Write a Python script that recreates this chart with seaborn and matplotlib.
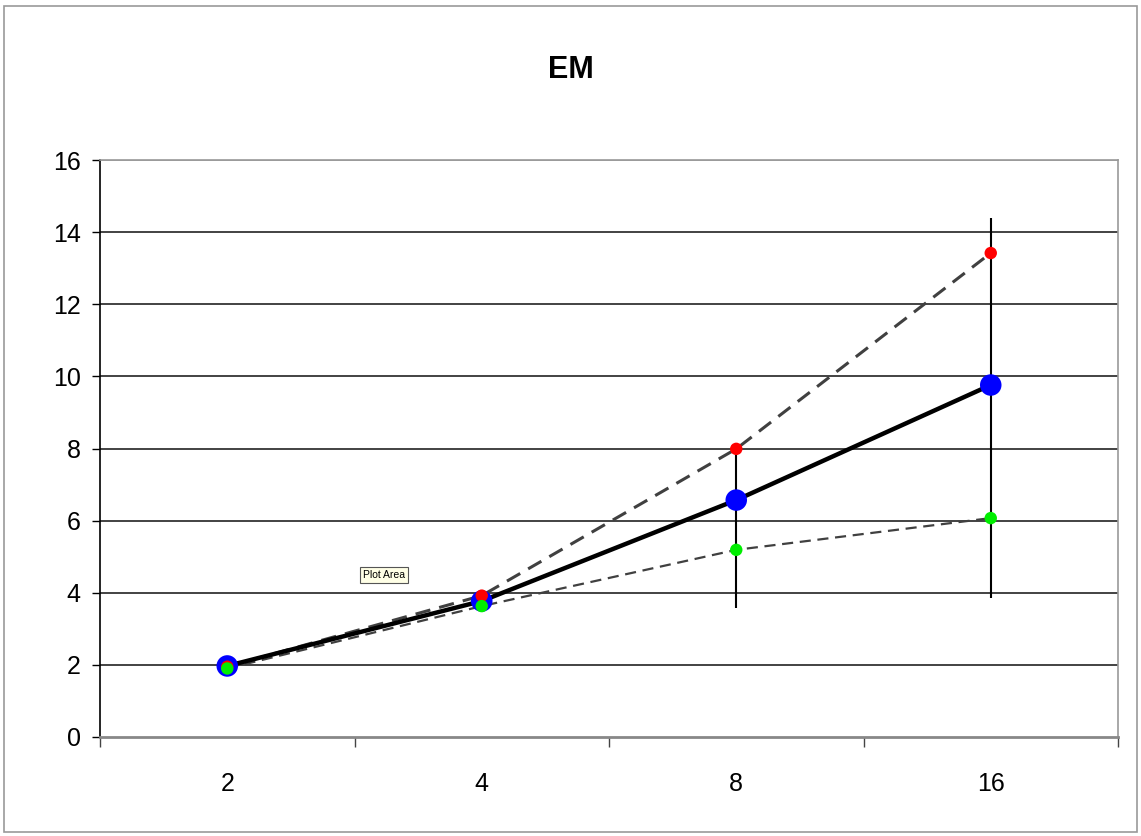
import numpy as np
import pandas as pd
import matplotlib
matplotlib.use("Agg")
import matplotlib.pyplot as plt
import seaborn as sns
from matplotlib.patches import Rectangle

sns.set_style("white")
plt.rcParams['font.family'] = ['Liberation Sans', 'DejaVu Sans']
plt.rcParams['text.color'] = 'black'
plt.rcParams['xtick.color'] = 'black'
plt.rcParams['ytick.color'] = 'black'

categories = ["2", "4", "8", "16"]
mean_vals = [1.97, 3.77, 6.57, 9.76]
upper_vals = [1.95, 3.92, 7.99, 13.42]
lower_vals = [1.90, 3.63, 5.19, 6.07]
err_low = [0.0, 0.0, 2.99, 5.91]
err_high = [0.0, 0.0, 1.31, 4.63]

df = pd.DataFrame({
    "pos": np.arange(len(categories)),
    "mean": mean_vals,
    "upper": upper_vals,
    "lower": lower_vals,
})

fig = plt.figure(figsize=(11.41, 8.36), dpi=100)
ax = fig.add_axes([100 / 1141, 1 - 737 / 836, 1018 / 1141, 577 / 836])

# gridlines
for yv in range(2, 17, 2):
    ax.axhline(yv, color="#222222" if yv < 16 else "#999999", lw=1.2, zorder=1)

# error bars on the mean
ax.errorbar(df["pos"], df["mean"], yerr=[err_low, err_high], fmt="none",
            ecolor="black", elinewidth=1.5, capsize=0, zorder=2)

sns.lineplot(x="pos", y="upper", data=df, ax=ax, color="#404040", lw=2.2,
             linestyle=(0, (5, 3)), zorder=3)
sns.lineplot(x="pos", y="lower", data=df, ax=ax, color="#404040", lw=1.6,
             linestyle=(0, (5, 3)), zorder=3)
sns.lineplot(x="pos", y="mean", data=df, ax=ax, color="black", lw=3.2, zorder=4)

ax.scatter(df["pos"], df["mean"], s=240, color="#0000ff", edgecolor="none", zorder=5)
ax.scatter(df["pos"], df["upper"], s=80, color="#ff0000", edgecolor="none", zorder=6)
ax.scatter(df["pos"], df["lower"], s=80, color="#00ee00", edgecolor="none", zorder=6)

ax.set_xlim(-0.5, 3.5)
ax.set_ylim(0, 16)
ax.set_yticks(range(0, 17, 2))
ax.set_xticks(df["pos"])
ax.set_xticklabels(categories)
ax.set_xticks(np.arange(-0.5, 3.6, 1), minor=True)
ax.tick_params(axis="x", which="major", length=0, pad=25, labelsize=18)
ax.tick_params(axis="x", which="minor", length=7, width=1, color="#444444", direction="out", bottom=True)
ax.tick_params(axis="y", length=6, width=1, direction="out", left=True, pad=8, labelsize=18)
ax.set_xlabel("")
ax.set_ylabel("")

for side in ["top", "right"]:
    ax.spines[side].set_color("#999999")
    ax.spines[side].set_linewidth(1.2)
ax.spines["left"].set_color("black")
ax.spines["left"].set_linewidth(1.2)
ax.spines["bottom"].set_color("#888888")
ax.spines["bottom"].set_linewidth(2)

fig.text(0.5, 1 - 70 / 836, "EM", ha="center", va="center", fontsize=22, fontweight="bold")

# "Plot Area" tooltip
fig.text(384 / 1141, 1 - 575 / 836, "Plot Area", ha="center", va="center", fontsize=7.5,
         bbox=dict(boxstyle="square,pad=0.25", facecolor="#ffffe6", edgecolor="#555555", lw=0.8))

# outer chart border
fig.patches.append(Rectangle((4 / 1141, 4 / 836), 1133 / 1141, 826 / 836, transform=fig.transFigure,
                             fill=False, edgecolor="#999999", lw=1.2))

fig.savefig("out.png", dpi=100)
